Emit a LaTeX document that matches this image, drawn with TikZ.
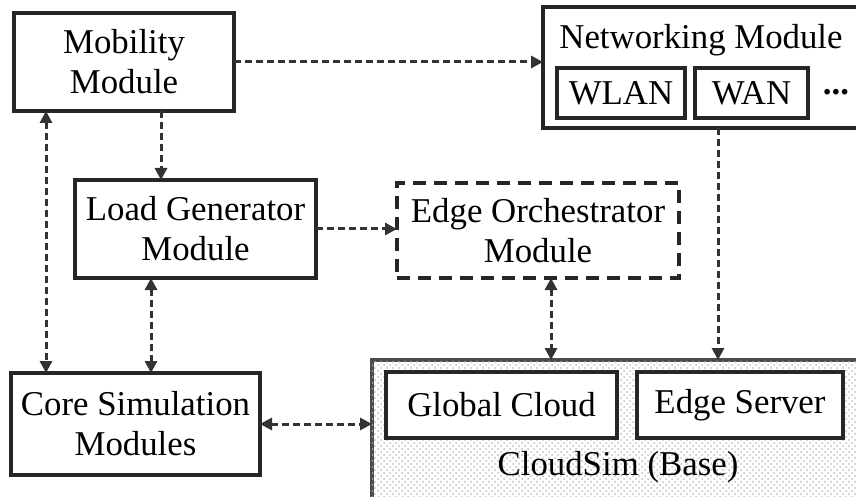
\documentclass[tikz,border=0pt]{standalone}
\usepackage{fontspec}
\setmainfont{Liberation Serif}
\usetikzlibrary{arrows.meta,patterns}
\begin{document}
\begin{tikzpicture}[x=0.5pt,y=-0.5pt,
  every node/.style={font=\fontsize{17.4}{20}\selectfont, inner sep=0pt, outer sep=0pt},
  box/.style={draw=black!85, line width=1.7pt, fill=white, align=center},
  dbox/.style={draw=black!85, line width=1.7pt, dash pattern=on 6.5pt off 4pt, fill=white, align=center},
  conn/.style={draw=black!80, line width=1.5pt, dash pattern=on 3.5pt off 2pt,
     -{Triangle[length=6pt,width=6pt]}},
  conn2/.style={conn, {Triangle[length=6pt,width=6pt]}-{Triangle[length=6pt,width=6pt]}}
]
\clip (0,0) rectangle (856,497);
\fill[white] (0,0) rectangle (856,497);

% boxes
\node[box, minimum width=110pt, minimum height=49pt] (mob) at (124,62) {Mobility\\Module};
\node[box, minimum width=178.5pt, minimum height=60.5pt] (net) at (721.5,67.5) {};
\node (nettitle) at (701,40) {Networking Module};
\node[box, minimum width=64pt, minimum height=25pt] (wlan) at (621,93) {WLAN};
\node[box, minimum width=56.5pt, minimum height=25pt] (wan) at (751.5,93) {WAN};
\node (dots) at (836,92) {\textbf{...}};
\node[box, minimum width=120.5pt, minimum height=49pt] (lg) at (195.5,229) {Load Generator\\Module};
\node[dbox, minimum width=141pt, minimum height=47.5pt] (eo) at (538,230.5) {Edge Orchestrator\\Module};
\node[box, minimum width=124.5pt, minimum height=51pt] (core) at (135.5,424) {Core Simulation\\Modules};
\node[draw=black!70, line width=1.7pt, minimum width=264pt, minimum height=80pt,
      fill=white, postaction={pattern=crosshatch dots, pattern color=black!25}] (cs) at (636,440) {};
\node[box, minimum width=115.5pt, minimum height=33pt] (gc) at (501.5,405) {Global Cloud};
\node[box, minimum width=103pt, minimum height=33pt] (es) at (740,405) {Edge Server};
\node (cstitle) at (618,467) {CloudSim (Base)};

% connectors
\draw[conn] (mob.east) -- (mob.east -| net.west);
\draw[conn] (mob.south -| 161,0) -- (lg.north -| 161,0);
\draw[conn2] (mob.south -| 46,0) -- (core.north -| 46,0);
\draw[conn2] (lg.south -| 151,0) -- (core.north -| 151,0);
\draw[conn] (lg.east) -- (lg.east -| eo.west);
\draw[conn2] (eo.south -| 551,0) -- (cs.north -| 551,0);
\draw[conn] (net.south -| 718,0) -- (cs.north -| 718,0);
\draw[conn2] (core.east) -- (core.east -| cs.west);
\end{tikzpicture}
\end{document}
